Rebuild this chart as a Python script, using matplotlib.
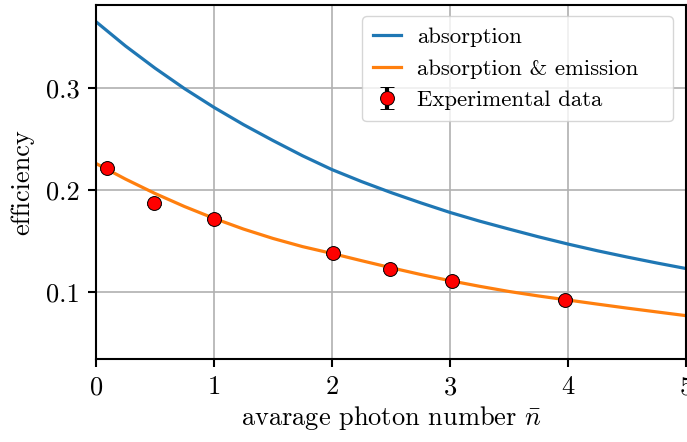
import matplotlib
matplotlib.use("Agg")
import matplotlib.pyplot as plt

plt.rcParams["font.family"] = "serif"
plt.rcParams["font.serif"] = ["cmr10"]
plt.rcParams["mathtext.fontset"] = "cm"
plt.rcParams["axes.formatter.use_mathtext"] = True

# values
n_curve = [0.0, 0.25, 0.5, 0.75, 1.0, 1.25, 1.5, 1.75, 2.0, 2.25, 2.5,
           2.75, 3.0, 3.25, 3.5, 3.75, 4.0, 4.25, 4.5, 4.75, 5.0]
eff_absorption = [0.365, 0.3412, 0.3195, 0.2994, 0.281, 0.2641, 0.2485,
                  0.2336, 0.220, 0.2083, 0.1975, 0.1875, 0.178, 0.1695,
                  0.1617, 0.1541, 0.147, 0.1404, 0.1343, 0.1285, 0.123]
eff_abs_emission = [0.226, 0.2107, 0.1966, 0.1838, 0.1722, 0.1617, 0.1525,
                    0.1445, 0.1378, 0.1307, 0.1238, 0.1172, 0.1111, 0.1056,
                    0.1005, 0.0961, 0.0921, 0.0881, 0.0842, 0.0805, 0.0768]

n_exp = [0.096, 0.49, 1.0, 2.01, 2.49, 3.02, 3.975]
eff_exp = [0.2213, 0.1870, 0.1718, 0.1379, 0.1225, 0.1111, 0.0926]
err_exp = [0.0015, 0.0015, 0.0015, 0.0015, 0.0015, 0.0015, 0.0015]

fig = plt.figure(figsize=(6.87, 4.42), dpi=100)
ax = fig.add_axes([96 / 687, 1 - 359 / 442, 590 / 687, 354 / 442])

ax.plot(n_curve, eff_absorption, color="tab:blue", lw=2.3, label="absorption")
ax.plot(n_curve, eff_abs_emission, color="tab:orange", lw=2.3,
        label="absorption & emission")
ax.errorbar(n_exp, eff_exp, yerr=err_exp, fmt="o", color="black",
            markerfacecolor="red", markeredgecolor="black", markeredgewidth=0.7,
            markersize=10, capsize=5, elinewidth=3, capthick=1.5,
            label="Experimental data", zorder=3)

ax.set_xlim(0, 5)
ax.set_ylim(0.0343, 0.3814)
ax.set_xticks([0, 1, 2, 3, 4, 5])
ax.set_yticks([0.1, 0.2, 0.3])
ax.set_yticklabels(["0.1", "0.2", "0.3"])
ax.grid(True, color="#b0b0b0", lw=1.2)
ax.set_axisbelow(True)

for s in ax.spines.values():
    s.set_linewidth(1.5)
ax.tick_params(labelsize=19, width=1.5, length=6, pad=6)

ax.set_xlabel(r"avarage photon number $\bar{n}$", fontsize=19, labelpad=3)
ax.set_ylabel("efficiency", fontsize=19, labelpad=8)

# legend box stretched to the width seen in the reference
ax.legend(loc="upper left", bbox_to_anchor=(0.4508, 0.969, 0.527, 0),
          mode="expand", borderaxespad=0, fontsize=16.4, framealpha=0.8,
          borderpad=0.5, handlelength=1.2, handletextpad=0.7,
          labelspacing=0.5)

fig.savefig("out.png", dpi=100)
